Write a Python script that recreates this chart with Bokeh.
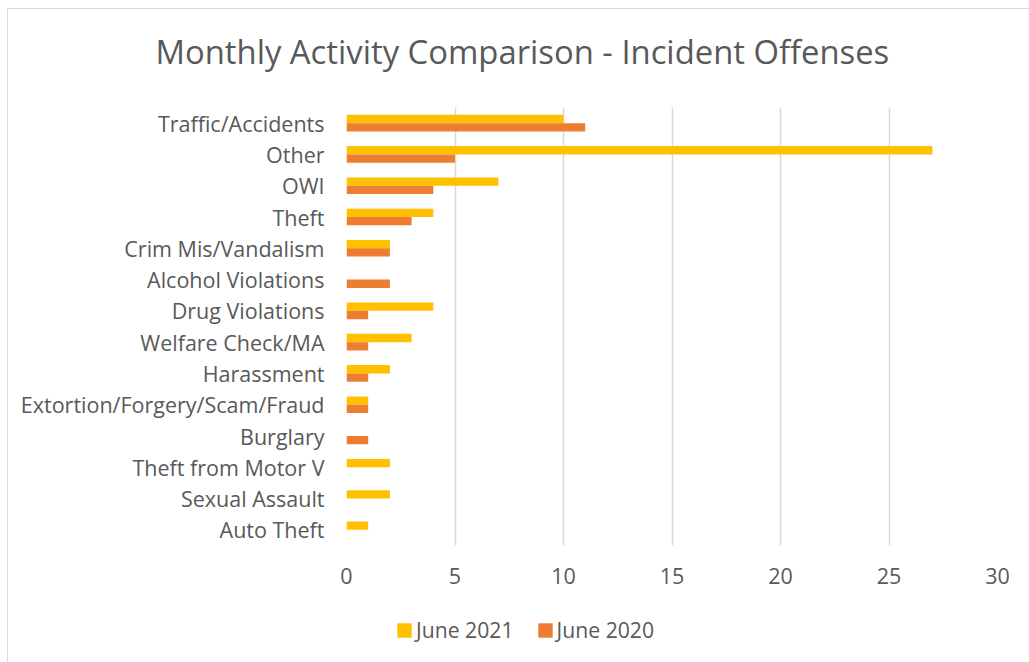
from bokeh.plotting import figure
from bokeh.layouts import column
from bokeh.models import ColumnDataSource, FactorRange, Range1d, Legend, LegendItem, FixedTicker
from bokeh.transform import dodge
from bokeh.embed import file_html
from bokeh.resources import INLINE

categories = ["Traffic/Accidents", "Other", "OWI", "Theft", "Crim Mis/Vandalism",
              "Alcohol Violations", "Drug Violations", "Welfare Check/MA", "Harassment",
              "Extortion/Forgery/Scam/Fraud", "Burglary", "Theft from Motor V",
              "Sexual Assault", "Auto Theft"]
june_2021 = [10, 27, 7, 4, 2, 0, 4, 3, 2, 1, 0, 2, 2, 1]
june_2020 = [11, 5, 4, 3, 2, 2, 1, 1, 1, 1, 1, 0, 0, 0]
series_names = ["June 2021", "June 2020"]
series_cols = ["y2021", "y2020"]
series_colors = ["#FFC000", "#ED7D31"]
x_ticks = [0, 5, 10, 15, 20, 25, 30]
chart_title = "Monthly Activity Comparison - Incident Offenses"

FONT = "Open Sans"
TXT = "#595959"

src = ColumnDataSource(dict(cat=categories, y2021=june_2021, y2020=june_2020))


def strip(height, **kw):
    f = figure(width=1021, height=height, output_backend="svg", toolbar_location=None,
               x_range=Range1d(0, 30), y_range=Range1d(0, 1),
               x_axis_type=None, y_axis_type=None, min_border=0, **kw)
    f.outline_line_color = None
    f.xgrid.visible = False
    f.ygrid.visible = False
    return f


# title strip (its frame is aligned with the main plot's frame by the column layout)
tt = strip(98, title=chart_title)
tt.min_border_top = 64
tt.title.align = "left"
tt.title.vertical_align = "bottom"
tt.title.offset = -191
tt.title.standoff = 0
tt.title.text_font = FONT
tt.title.text_font_size = "32.8px"
tt.title.text_font_style = "normal"
tt.title.text_color = TXT

# main chart
p = figure(width=1021, height=502, output_backend="svg", toolbar_location=None,
           y_range=FactorRange(*reversed(categories)), x_range=Range1d(0, 30),
           min_border_left=338, min_border_right=32, min_border_top=0, min_border_bottom=64)
p.outline_line_color = None

for off, col, color in zip([0.133, -0.133], series_cols, series_colors):
    p.hbar(y=dodge("cat", off, range=p.y_range), right=col, left=0, height=0.266,
           source=src, fill_color=color, line_color=None)

p.xaxis.ticker = FixedTicker(ticks=x_ticks)
for ax in (p.xaxis[0], p.yaxis[0]):
    ax.axis_line_color = None
    ax.major_tick_line_color = None
    ax.minor_tick_line_color = None
    ax.major_tick_out = 0
    ax.major_label_text_font = FONT
    ax.major_label_text_color = TXT
    ax.major_label_text_font_size = "21.5px"
p.xaxis.major_label_standoff = 22
p.yaxis.major_label_standoff = 22

p.xgrid.grid_line_color = "#d9d9d9"
p.xgrid.grid_line_width = 1.5
p.ygrid.grid_line_color = None

# legend strip
lg = strip(54)
items = []
for name, col, color in zip(series_names, series_cols, series_colors):
    rr = lg.hbar(y=0.5, right=col, left=0, height=0.5, source=src,
                 fill_color=color, line_color=None, visible=False)
    items.append(LegendItem(label=name, renderers=[rr]))
legend = Legend(items=items, location=(49, 19), orientation="horizontal",
                glyph_width=18, glyph_height=18, label_standoff=3, spacing=22,
                padding=0, margin=0, border_line_color=None, background_fill_color=None,
                inactive_fill_alpha=0, click_policy="none",
                label_text_font=FONT, label_text_font_size="21.2px", label_text_color=TXT)
lg.add_layout(legend, "center")

layout = column(tt, p, lg, spacing=0)
layout.styles = {"border-top": "1px solid #d9d9d9", "border-left": "1px solid #d9d9d9",
                 "margin-left": "7px", "margin-top": "8px"}

open("out.html", "w").write(file_html(layout, INLINE))
